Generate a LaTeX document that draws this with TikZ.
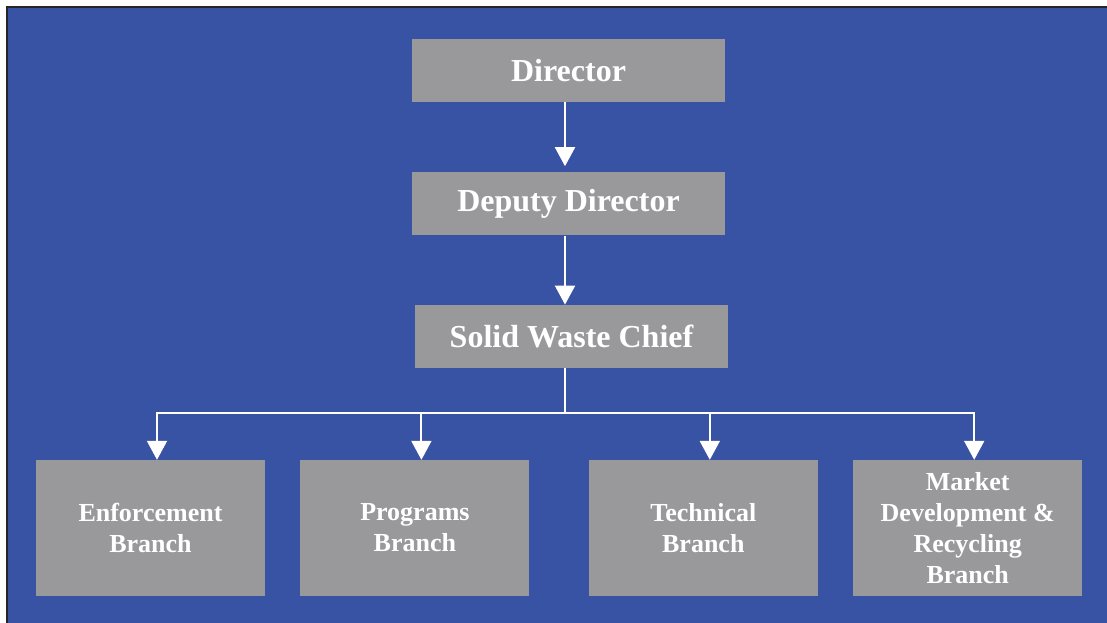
\documentclass[tikz,border=0pt]{standalone}
\usepackage{fontspec}
\setmainfont{Liberation Serif}
\usepackage{tikz}
\usetikzlibrary{
	positioning,
	arrows.meta
}
\definecolor{slateblue}{RGB}{57,83,164}
\definecolor{boxgray}{RGB}{153,153,155}

\begin{document}
\begin{tikzpicture}[x=1pt,y=-1pt,
		head/.style={rectangle,fill=boxgray,text=white,inner sep=0pt,
			font=\bfseries\fontsize{32}{38}\selectfont,
			minimum width=313pt,minimum height=63pt},
		branch/.style={rectangle,fill=boxgray,text=white,inner sep=0pt,align=center,
			font=\bfseries\fontsize{26}{31}\selectfont,
			minimum width=229pt,minimum height=136pt},
		link/.style={draw=white,line width=2pt,-{Triangle[width=20pt,length=19pt]}}
	]
		\useasboundingbox (0,0) rectangle (1107,623);
		\fill[slateblue] (7,7) rectangle (1107,623);
		\draw[black!85,line width=2pt] (7,623) -- (7,7) -- (1107,7);

		\node [head]                                 (dir)   at (568.5,70.5) {Director};
		\node [head,below=70pt of dir]               (dep)   {Deputy Director};
		\node [head,below=69pt of dep,xshift=3pt]    (chief) {Solid Waste Chief};

		\node [branch]                    (enf)  at (150.5,528) {Enforcement\\Branch};
		\node [branch,right=35pt of enf]  (prog) {Programs\\Branch};
		\node [branch,right=59pt of prog] (tech) {Technical\\Branch};
		\node [branch,right=35pt of tech] (mkt)  {Market\\Development \&\\Recycling\\Branch};

		\coordinate (bus) at (565,413);

		\draw[link,shorten >=6pt] ([xshift=-3.5pt]dir.south) -- ([xshift=-3.5pt]dep.north);
		\draw[link] ([xshift=-3.5pt]dep.south) -- ([xshift=-6.5pt]chief.north);
		\draw[white,line width=2pt] ([xshift=-6.5pt]chief.south) -- (bus);
		\foreach \b in {enf,prog,tech,mkt}
			\draw[link] (bus) -| ([xshift=6.5pt]\b.north);
\end{tikzpicture}
\end{document}
